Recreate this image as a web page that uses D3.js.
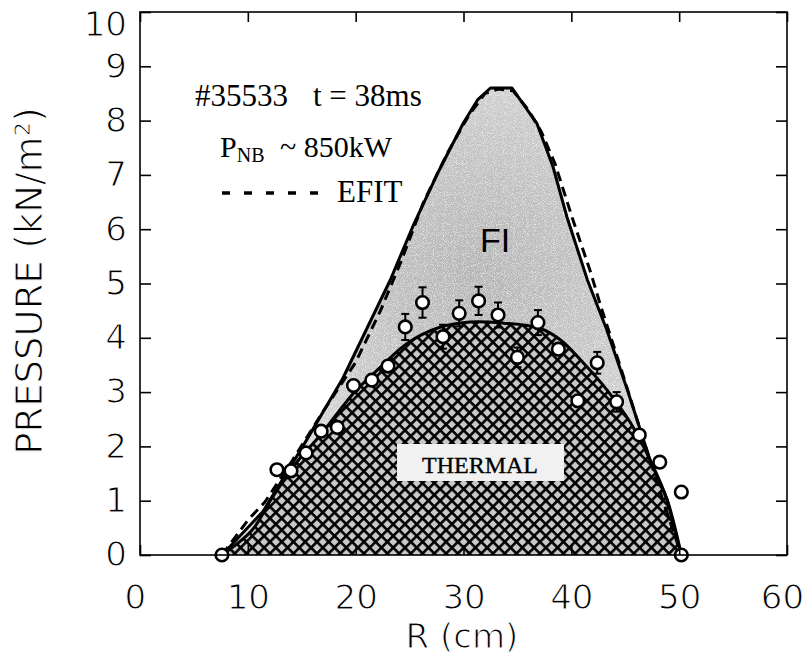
<!DOCTYPE html>
<html>
<head>
<meta charset="utf-8">
<script src="https://cdn.jsdelivr.net/npm/d3@7"></script>
<style>
  html, body { margin: 0; padding: 0; background: #fff; }
  svg { display: block; }
</style>
</head>
<body>
<div id="chart"></div>
<script>
// ---- data ----
const rTicks = [0, 10, 20, 30, 40, 50, 60];
const pTicks = [0, 1, 2, 3, 4, 5, 6, 7, 8, 9, 10];

// total pressure (solid, FI + thermal)
const totalR = [7.6, 11.4, 15.1, 18.8, 23.2, 25.3, 27.6, 30.0, 31.3, 32.5, 34.5, 36.8, 38.3, 39.6, 41.5, 43.3, 45.2, 47.3, 48.9, 50.2];
const totalP = [0, 0.8, 2.0, 3.25, 5.06, 6.05, 7.03, 7.96, 8.38, 8.6, 8.6, 7.95, 7.15, 6.22, 5.06, 4.14, 3.04, 1.75, 1.01, 0];

// thermal pressure (smooth curve, hatched)
const thermalR = [7.6, 10.4, 12.3, 14.7, 16.7, 19.8, 22.3, 24.8, 27.6, 30.6, 33.7, 37.0, 39.0, 41.1, 43.3, 45.5, 47.3, 48.9, 50.2];
const thermalP = [0, 0.46, 1.07, 1.75, 2.2, 2.98, 3.46, 3.90, 4.18, 4.29, 4.27, 4.18, 3.96, 3.54, 3.04, 2.43, 1.75, 1.01, 0];

// EFIT (dashed)
const efitR = [7.6, 10.0, 11.6, 14.0, 17.0, 20.0, 22.3, 24.2, 26.3, 28.5, 30.5, 32.0, 33.2, 34.6, 36.0, 37.2, 38.5, 40.1, 41.8, 42.7, 44.5, 46.4, 48.5, 50.2];
const efitP = [0, 0.64, 0.98, 1.7, 2.65, 3.55, 4.5, 5.4, 6.5, 7.4, 8.1, 8.5, 8.58, 8.55, 8.2, 7.8, 7.2, 6.2, 5.2, 4.6, 3.5, 2.3, 1.0, 0];

// measured points
const dataR = [7.6, 12.7, 14.0, 15.4, 16.8, 18.3, 19.8, 21.5, 23.0, 24.6, 26.2, 28.1, 29.6, 31.4, 33.2, 35.0, 36.9, 38.8, 40.6, 42.4, 44.2, 46.3, 48.2, 50.2, 50.2];
const dataP = [0, 1.57, 1.55, 1.88, 2.28, 2.35, 3.12, 3.22, 3.48, 4.2, 4.65, 4.02, 4.45, 4.68, 4.42, 3.64, 4.28, 3.79, 2.84, 3.54, 2.82, 2.21, 1.71, 1.16, 0];
const dataErr = [0, 0, 0, 0, 0, 0, 0, 0, 0, 0.24, 0.28, 0.22, 0.24, 0.26, 0.23, 0.18, 0.23, 0, 0, 0.2, 0.18, 0, 0, 0, 0];

// ---- layout ----
const W = 809, H = 663;
const x = d3.scaleLinear().domain([0, 60]).range([140, 787]);
const y = d3.scaleLinear().domain([0, 10]).range([555, 12]);

const svg = d3.select("#chart").append("svg").attr("width", W).attr("height", H);
const defs = svg.append("defs");

// FI stipple gradient
const grad = defs.append("radialGradient").attr("id", "fiGrad")
  .attr("gradientUnits", "userSpaceOnUse")
  .attr("cx", x(31)).attr("cy", y(5.2)).attr("r", 250);
grad.append("stop").attr("offset", "0%").attr("stop-color", "#b4b4b4");
grad.append("stop").attr("offset", "55%").attr("stop-color", "#c6c6c6");
grad.append("stop").attr("offset", "100%").attr("stop-color", "#dadada");

// grain filter: white speckles over the grey
const filt = defs.append("filter").attr("id", "grain").attr("x", 0).attr("y", 0).attr("width", 1).attr("height", 1);
filt.append("feTurbulence").attr("type", "fractalNoise").attr("baseFrequency", 1.1).attr("numOctaves", 1).attr("seed", 5).attr("result", "noise");
filt.append("feColorMatrix").attr("in", "noise").attr("type", "matrix")
  .attr("values", "0 0 0 0 1  0 0 0 0 1  0 0 0 0 1  0 0 0 -2.2 1.15").attr("result", "dots");
filt.append("feComposite").attr("in", "dots").attr("in2", "SourceGraphic").attr("operator", "in").attr("result", "dotsIn");
filt.append("feMerge").call(m => { m.append("feMergeNode").attr("in", "SourceGraphic"); m.append("feMergeNode").attr("in", "dotsIn"); });

// crosshatch pattern
const s = 8.3, lw = 2.6;
const pat = defs.append("pattern").attr("id", "hatch").attr("patternUnits", "userSpaceOnUse")
  .attr("width", s).attr("height", s).attr("patternTransform", "rotate(45)");
pat.append("rect").attr("width", s).attr("height", s).attr("fill", "#c8c8c8");
pat.append("rect").attr("x", 0).attr("y", 0).attr("width", lw).attr("height", s).attr("fill", "#000");
pat.append("rect").attr("x", 0).attr("y", 0).attr("width", s).attr("height", lw).attr("fill", "#000");

const toPts = (R, P) => R.map((r, i) => [r, P[i]]);
const totalPts = toPts(totalR, totalP);
const thermalPts = toPts(thermalR, thermalP);
const efitPts = toPts(efitR, efitP);

const areaLin = d3.area().x(d => x(d[0])).y0(y(0)).y1(d => y(d[1])).curve(d3.curveLinear);
const areaSmooth = d3.area().x(d => x(d[0])).y0(y(0)).y1(d => y(d[1])).curve(d3.curveCatmullRom.alpha(0.5));
const lineLin = d3.line().x(d => x(d[0])).y(d => y(d[1])).curve(d3.curveLinear);
const lineSmooth = d3.line().x(d => x(d[0])).y(d => y(d[1])).curve(d3.curveCatmullRom.alpha(0.5));

// FI region
svg.append("path").attr("d", areaLin(totalPts)).attr("fill", "url(#fiGrad)").attr("filter", "url(#grain)");
// thermal hatch
svg.append("path").attr("d", areaSmooth(thermalPts)).attr("fill", "url(#hatch)");

// THERMAL label box
svg.append("rect").attr("x", 397).attr("y", 444).attr("width", 167).attr("height", 37).attr("fill", "#f1f1f1");
svg.append("text").attr("x", 480).attr("y", 473).attr("text-anchor", "middle")
  .attr("font-family", "'Liberation Serif', 'Times New Roman', serif").attr("font-size", 24)
  .attr("stroke", "#000").attr("stroke-width", 0.35)
  .text("THERMAL");

// lines
svg.append("path").attr("d", lineLin(totalPts)).attr("fill", "none").attr("stroke", "#000").attr("stroke-width", 3).attr("stroke-linejoin", "round");
svg.append("path").attr("d", lineSmooth(thermalPts)).attr("fill", "none").attr("stroke", "#000").attr("stroke-width", 3);
svg.append("path").attr("d", lineLin(efitPts)).attr("fill", "none").attr("stroke", "#000").attr("stroke-width", 3).attr("stroke-dasharray", "10,6");

// error bars
const eb = svg.append("g").attr("stroke", "#000").attr("stroke-width", 2);
dataR.forEach((r, i) => {
  const e = dataErr[i];
  if (!e) return;
  const cx = x(r), t = y(dataP[i] + e), b = y(dataP[i] - e);
  eb.append("line").attr("x1", cx).attr("x2", cx).attr("y1", t).attr("y2", b);
  eb.append("line").attr("x1", cx - 4).attr("x2", cx + 4).attr("y1", t).attr("y2", t);
  eb.append("line").attr("x1", cx - 4).attr("x2", cx + 4).attr("y1", b).attr("y2", b);
});
// data circles
svg.append("g").selectAll("circle").data(dataR).join("circle")
  .attr("cx", d => x(d)).attr("cy", (d, i) => y(dataP[i])).attr("r", 6.3)
  .attr("fill", "#fff").attr("stroke", "#000").attr("stroke-width", 2.6);

// frame
svg.append("rect").attr("x", x(0)).attr("y", y(10)).attr("width", x(60) - x(0)).attr("height", y(0) - y(10))
  .attr("fill", "none").attr("stroke", "#000").attr("stroke-width", 1.6);

const tickFont = "'DejaVu Sans', 'Verdana', sans-serif";
// thin the glyphs a little with a white outline drawn over the fill
const thin = sel => sel.attr("stroke", "#fff").attr("stroke-width", 1.1).attr("paint-order", "normal");

// axes
const yAxis = svg.append("g").attr("transform", `translate(${x(0)},0)`)
  .call(d3.axisLeft(y).tickValues(pTicks).tickSize(-11).tickPadding(13).tickFormat(d3.format("d")));
const yAxisR = svg.append("g").attr("transform", `translate(${x(60)},0)`)
  .call(d3.axisRight(y).tickValues(pTicks).tickSize(-11).tickFormat(""));
const xAxis = svg.append("g").attr("transform", `translate(0,${y(0)})`)
  .call(d3.axisBottom(x).tickValues(rTicks).tickSize(-10).tickPadding(30).tickFormat(d3.format("d")));
const xAxisT = svg.append("g").attr("transform", `translate(0,${y(10)})`)
  .call(d3.axisTop(x).tickValues(rTicks).tickSize(-10).tickFormat(""));

[yAxis, yAxisR, xAxis, xAxisT].forEach(g => {
  g.select(".domain").remove();
  g.selectAll(".tick line").attr("stroke", "#000").attr("stroke-width", 1.6);
  g.selectAll("text").attr("font-family", tickFont).attr("font-size", 34).attr("fill", "#000").call(thin);
});
// keep top label inside the picture
yAxis.selectAll(".tick text").filter(d => d === 10).attr("dy", "0.7em");
xAxis.selectAll(".tick text").filter(d => d === 0).attr("dx", "-0.15em");
xAxis.selectAll(".tick text").filter(d => d === 60).attr("dx", "-0.15em");

// axis titles
svg.append("text").attr("x", 462).attr("y", 648).attr("text-anchor", "middle")
  .attr("font-family", tickFont).attr("font-size", 34).call(thin).text("R (cm)");
svg.append("text").attr("transform", "translate(42,281) rotate(-90)").attr("text-anchor", "middle")
  .attr("font-family", tickFont).attr("font-size", 37).call(thin).text("PRESSURE (kN/m²)");

// annotations
const serif = "'Liberation Serif', 'Times New Roman', serif";
svg.append("text").attr("x", 195).attr("y", 106).attr("font-family", serif).attr("font-size", 31).text("#35533");
svg.append("text").attr("x", 313).attr("y", 106).attr("font-family", serif).attr("font-size", 31).text("t = 38ms");
const pnb = svg.append("text").attr("x", 220).attr("y", 157).attr("font-family", serif).attr("font-size", 30);
pnb.append("tspan").text("P");
pnb.append("tspan").attr("font-size", 20).attr("dy", 5).text("NB");
svg.append("text").attr("x", 280).attr("y", 157).attr("font-family", serif).attr("font-size", 30).text("~ 850kW");
svg.append("line").attr("x1", 222).attr("x2", 318).attr("y1", 193).attr("y2", 193)
  .attr("stroke", "#000").attr("stroke-width", 3.5).attr("stroke-dasharray", "8,14");
svg.append("text").attr("x", 337).attr("y", 202).attr("font-family", serif).attr("font-size", 31).text("EFIT");
svg.append("text").attr("x", 480).attr("y", 252).attr("font-family", "'Liberation Sans', Arial, sans-serif").attr("font-size", 34).text("FI");
</script>
</body>
</html>
